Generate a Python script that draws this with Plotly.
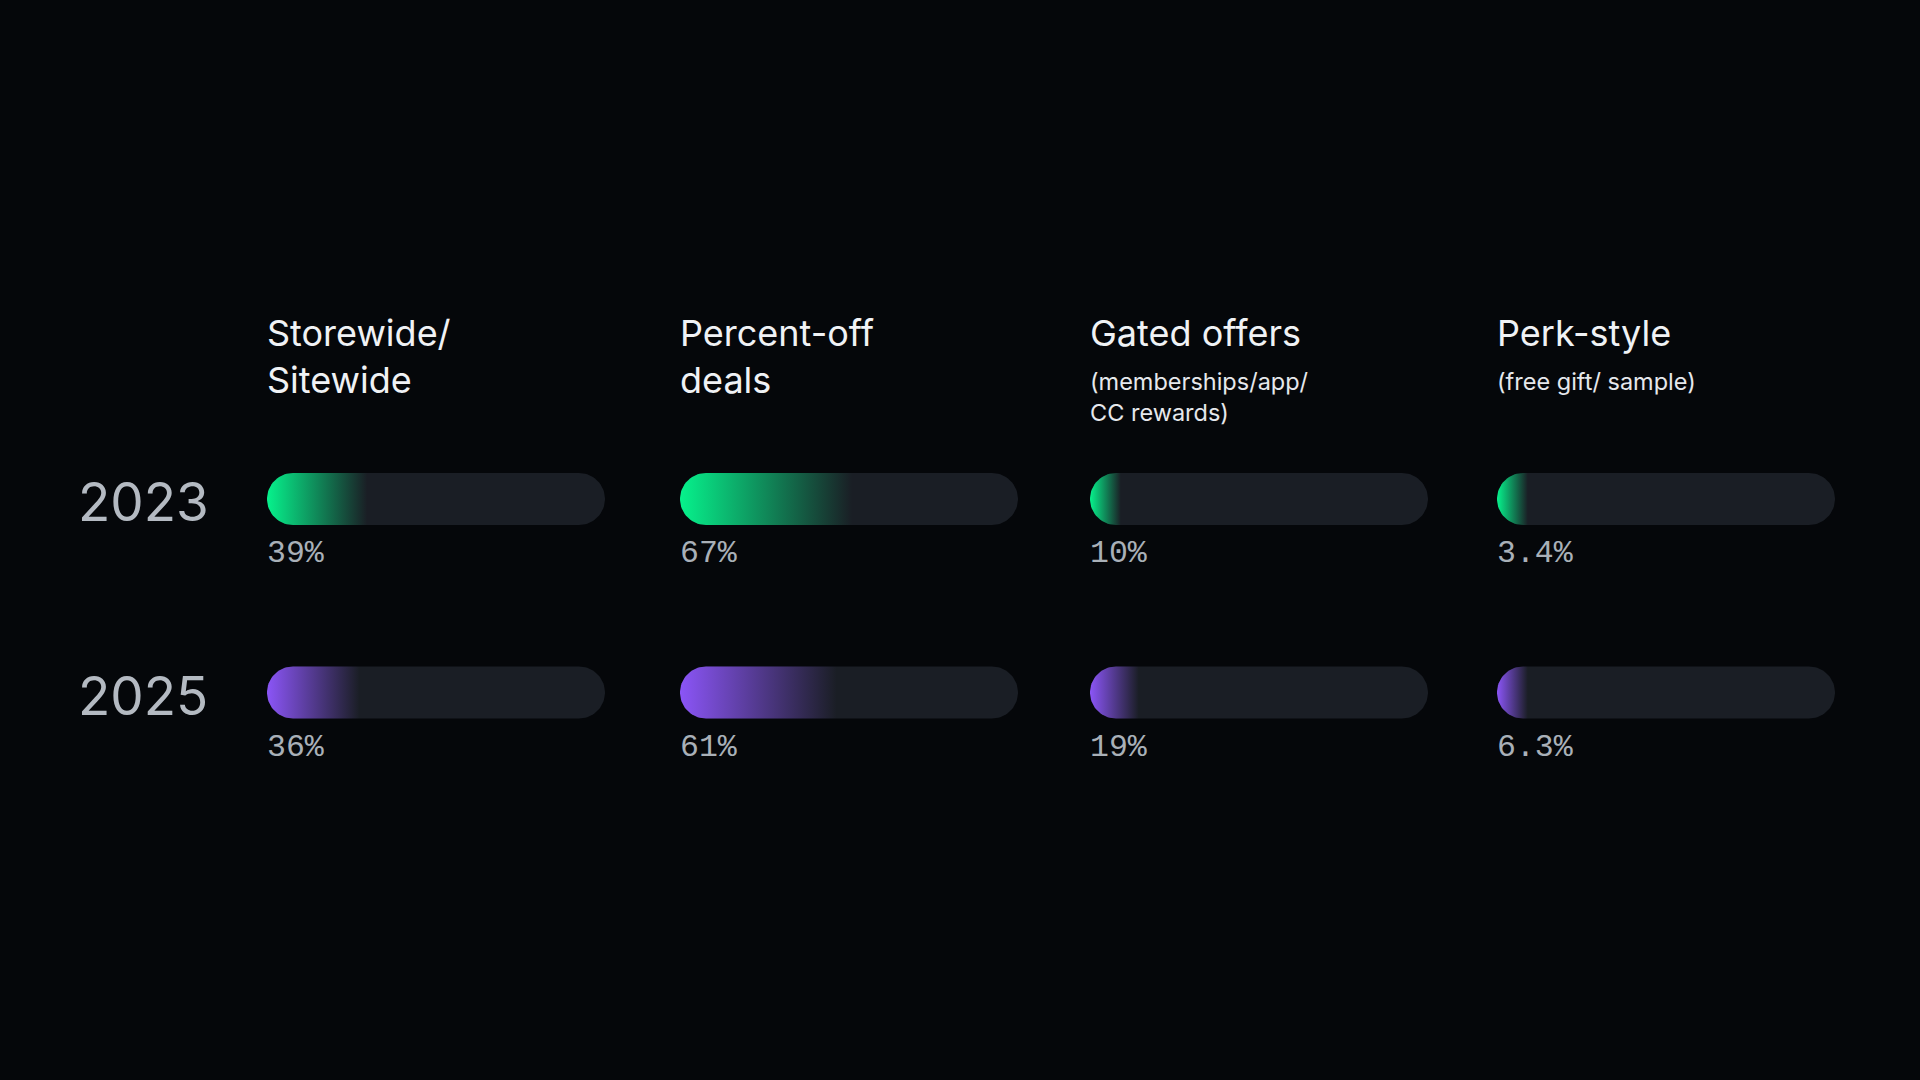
import numpy as np
import plotly.graph_objects as go

# ---------------- data ----------------
categories = ["Storewide/<br>Sitewide", "Percent-off<br>deals", "Gated offers", "Perk-style"]
subtitles = ["", "", "(memberships/app/<br>CC rewards)", "(free gift/ sample)"]
years = ["2023", "2025"]
values_2023 = [39, 67, 10, 3.4]
values_2025 = [36, 61, 19, 6.3]
labels_2023 = ["39%", "67%", "10%", "3.4%"]
labels_2025 = ["36%", "61%", "19%", "6.3%"]

# ---------------- style / layout ----------------
W, H = 1920, 1080
BG = "#05070a"
TRACK = "#1a1e25"
ROW_COLORS = ["#06f28c", "#8b55f7"]
COL_LEFT = [267, 680, 1090, 1497]
TRACK_W = 338
ROW_Y = [499, 692.5]
BAR_H = 52
R = BAR_H / 2
UNITS_PER_PX = 100.0 / TRACK_W
RX = R * UNITS_PER_PX          # cap radius in x units
MIN_GRAD = 12                  # minimum gradient length in x units
FADE = 0.76                    # fraction of gradient where it reaches track colour

values = [values_2023, values_2025]
labels = [labels_2023, labels_2025]

fig = go.Figure()


def arc(cx, cy, a0, a1, n=40):
    t = np.radians(np.linspace(a0, a1, n))
    return cx + RX * np.cos(t), cy - R * np.sin(t)


def rgba(hexc, a):
    h = hexc.lstrip("#")
    return f"rgba({int(h[0:2],16)},{int(h[2:4],16)},{int(h[4:6],16)},{a})"


for ci in range(len(categories)):
    xa = "x" if ci == 0 else f"x{ci+1}"
    for ri, yc in enumerate(ROW_Y):
        # track (full pill from 0 to 100)
        lx, ly = arc(RX, yc, 90, 270)
        rx_, ry_ = arc(100 - RX, yc, -90, 90)
        tx = np.concatenate([lx, rx_, [lx[0]]])
        ty = np.concatenate([ly, ry_, [ly[0]]])
        fig.add_trace(go.Scatter(x=tx, y=ty, xaxis=xa, yaxis="y", mode="lines",
                                 line=dict(width=0), fill="toself", fillcolor=TRACK,
                                 hoverinfo="skip", showlegend=False))
        # value fill with horizontal gradient
        v = values[ri][ci]
        g = max(v, MIN_GRAD)
        fx = np.concatenate([lx, [g, g, lx[0]]])
        fy = np.concatenate([ly, [yc + R, yc - R, ly[0]]])
        col = ROW_COLORS[ri]
        fig.add_trace(go.Scatter(
            x=fx, y=fy, xaxis=xa, yaxis="y", mode="lines", line=dict(width=0),
            fill="toself",
            fillgradient=dict(type="horizontal", start=0, stop=g,
                              colorscale=[[0, col], [FADE, rgba(col, 0)], [1, rgba(col, 0)]]),
            hoverinfo="skip", showlegend=False))

annotations = []
HEAD_FONT = "Inter"
for ci, cat in enumerate(categories):
    xr = "x" if ci == 0 else f"x{ci+1}"
    annotations.append(dict(xref=xr, yref="y", x=0, y=309, xshift=-2, text=cat,
                            showarrow=False, xanchor="left", yanchor="top", align="left",
                            font=dict(family=HEAD_FONT, size=36, color="#f0f2f5")))
    if subtitles[ci]:
        annotations.append(dict(xref=xr, yref="y", x=0, y=365, xshift=-2, text=subtitles[ci],
                                showarrow=False, xanchor="left", yanchor="top", align="left",
                                font=dict(family=HEAD_FONT, size=23.5, color="#e6e8ec")))
    for ri, yc in enumerate(ROW_Y):
        annotations.append(dict(xref=xr, yref="y", x=0, y=yc + 54.5, xshift=-2,
                                text=labels[ri][ci],
                                showarrow=False, xanchor="left", yanchor="middle",
                                font=dict(family="Liberation Mono", size=31.5, color="#a9b0b8")))

for ri, yc in enumerate(ROW_Y):
    annotations.append(dict(xref="paper", yref="y", x=76 / W, y=yc + 3, text=years[ri],
                            showarrow=False, xanchor="left", yanchor="middle",
                            font=dict(family=HEAD_FONT, size=53, color="#b4bac2")))

layout = dict(
    width=W, height=H, paper_bgcolor=BG, plot_bgcolor=BG,
    margin=dict(l=0, r=0, t=0, b=0), showlegend=False,
    yaxis=dict(range=[H, 0], domain=[0, 1], visible=False, fixedrange=True),
    annotations=annotations,
)
for ci in range(len(categories)):
    key = "xaxis" if ci == 0 else f"xaxis{ci+1}"
    d0 = COL_LEFT[ci] / W
    d1 = (COL_LEFT[ci] + TRACK_W) / W
    layout[key] = dict(range=[0, 100], domain=[d0, d1], visible=False, anchor="y",
                       fixedrange=True)
fig.update_layout(**layout)
fig.write_html(
    "out.html",
    config={"displayModeBar": False},
    post_script="document.body.style.margin='0';document.body.style.background='%s';" % BG,
)
